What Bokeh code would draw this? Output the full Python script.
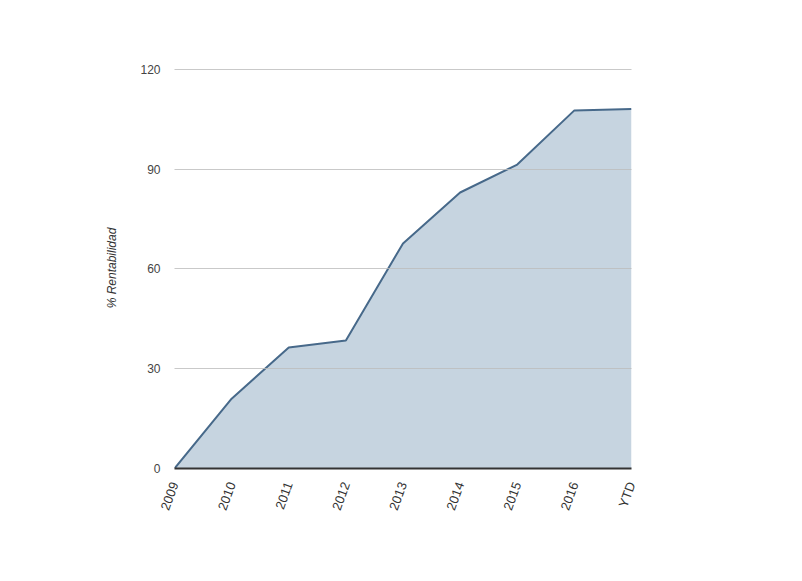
from bokeh.plotting import figure
from bokeh.models import Range1d, FixedTicker
from bokeh.embed import file_html
from bokeh.resources import INLINE
import math

years = ["2009", "2010", "2011", "2012", "2013", "2014", "2015", "2016", "YTD"]
rentabilidad = [0, 21.0, 36.4, 38.5, 67.7, 83.0, 91.4, 107.7, 108.1]
y_ticks = [0, 30, 60, 90, 120]

xs = list(range(len(years)))

p = figure(width=786, height=565, output_backend="svg", toolbar_location=None,
           x_range=Range1d(0, len(years) - 1), y_range=Range1d(0, 120.6),
           min_border_left=174, min_border_right=155, min_border_top=67, min_border_bottom=97)
p.outline_line_color = None
p.background_fill_color = "white"

p.varea(x=xs, y1=[0] * len(xs), y2=rentabilidad, fill_color="#c6d4e0", fill_alpha=1.0)
p.line(x=xs, y=rentabilidad, line_color="#47698a", line_width=2)

p.xgrid.grid_line_color = None
p.ygrid.grid_line_color = "#bbbbbb"
p.ygrid.grid_line_alpha = 0.8
p.ygrid.level = "overlay"
p.ygrid.ticker = FixedTicker(ticks=y_ticks)

p.yaxis.ticker = FixedTicker(ticks=y_ticks)
p.yaxis.axis_line_color = None
p.yaxis.major_tick_line_color = None
p.yaxis.minor_tick_line_color = None
p.yaxis.major_label_standoff = 8
p.yaxis.major_label_text_font = "Liberation Sans"
p.yaxis.major_label_text_font_size = "12px"
p.yaxis.major_label_text_color = "#444444"
p.yaxis.axis_label = "% Rentabilidad"
p.yaxis.axis_label_text_font = "Liberation Sans"
p.yaxis.axis_label_text_font_style = "italic"
p.yaxis.axis_label_text_font_size = "12px"
p.yaxis.axis_label_text_color = "#333333"
p.yaxis.axis_label_standoff = 18

p.xaxis.ticker = FixedTicker(ticks=xs)
p.xaxis.major_label_overrides = {i: y for i, y in enumerate(years)}
p.xaxis.axis_line_color = "#333333"
p.xaxis.axis_line_width = 2
p.xaxis.major_tick_line_color = None
p.xaxis.minor_tick_line_color = None
p.xaxis.major_label_orientation = math.radians(70)
p.xaxis.major_label_standoff = 8
p.xaxis.major_label_text_font = "Liberation Sans"
p.xaxis.major_label_text_font_size = "13px"
p.xaxis.major_label_text_color = "#333333"

open("out.html", "w").write(file_html(p, INLINE))
